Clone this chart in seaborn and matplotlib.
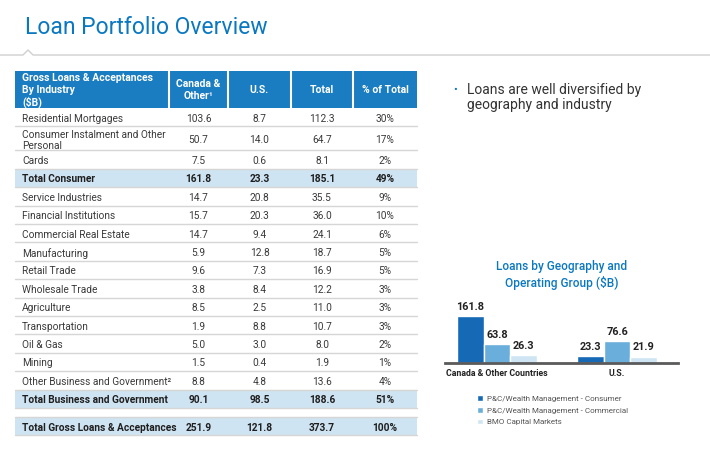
import numpy as np
import pandas as pd
import matplotlib
matplotlib.use("Agg")
import matplotlib.pyplot as plt
from matplotlib.patches import Rectangle, Patch
import seaborn as sns

# table data
header = ["Gross Loans & Acceptances\nBy Industry\n($B)", "Canada &\nOther¹", "U.S.", "Total", "% of Total"]
industries = ["Residential Mortgages", "Consumer Instalment and Other\nPersonal", "Cards",
              "Total Consumer", "Service Industries", "Financial Institutions",
              "Commercial Real Estate", "Manufacturing", "Retail Trade", "Wholesale Trade",
              "Agriculture", "Transportation", "Oil & Gas", "Mining",
              "Other Business and Government²", "Total Business and Government",
              "Total Gross Loans & Acceptances"]
canada = [103.6, 50.7, 7.5, 161.8, 14.7, 15.7, 14.7, 5.9, 9.6, 3.8, 8.5, 1.9, 5.0, 1.5, 8.8, 90.1, 251.9]
us = [8.7, 14.0, 0.6, 23.3, 20.8, 20.3, 9.4, 12.8, 7.3, 8.4, 2.5, 8.8, 3.0, 0.4, 4.8, 98.5, 121.8]
total = [112.3, 64.7, 8.1, 185.1, 35.5, 36.0, 24.1, 18.7, 16.9, 12.2, 11.0, 10.7, 8.0, 1.9, 13.6, 188.6, 373.7]
pct_total = [30, 17, 2, 49, 9, 10, 6, 5, 5, 3, 3, 3, 2, 1, 4, 51, 100]
total_rows = ["Total Consumer", "Total Business and Government", "Total Gross Loans & Acceptances"]

# chart data
geographies = ["Canada & Other Countries", "U.S."]
groups = ["P&C/Wealth Management - Consumer", "P&C/Wealth Management - Commercial", "BMO Capital Markets"]
consumer = [161.8, 23.3]
commercial = [63.8, 76.6]
capital_markets = [26.3, 21.9]

BLUE = "#0a78c0"
HEADER = "#1a7cc1"
LIGHT = "#cfe4f2"
GRID = "#d6d6d6"
TXT = "#3a3a3a"
bar_colors = ["#1569b5", "#6aaedb", "#cfe5f3"]

sns.set_theme(style="white")
plt.rcParams["font.family"] = ["Roboto", "DejaVu Sans"]

W, H = 710, 451
fig = plt.figure(figsize=(7.1, 4.51), dpi=100)

#canvas in pixel coords for the slide parts
cv = fig.add_axes([0, 0, 1, 1])
cv.set_xlim(0, W)
cv.set_ylim(H, 0)
cv.axis("off")

cv.text(25, 34, "Loan Portfolio Overview", fontsize=16.5, color=BLUE, va="baseline")
cv.plot([0, 23, 28, 33, W], [55, 55, 50, 55, 55], color="#cfcfcf", lw=1)

#table header
col_edges = [15, 169, 228, 291, 353, 417]
cv.add_patch(Rectangle((15, 71), 402, 37, facecolor=HEADER, edgecolor="none"))
for xe in col_edges[1:-1]:
    cv.plot([xe, xe], [71, 108], color="white", lw=1.5)
cv.text(22, 90.5, header[0], color="white", fontsize=7.5, fontweight="bold", va="center", linespacing=1.2)
for j in range(1, 5):
    cx = (col_edges[j] + col_edges[j + 1]) / 2
    cv.text(cx, 90, header[j], color="white", fontsize=7.5, fontweight="bold", ha="center", va="center",
            linespacing=1.25)

#table rows
y = 108
for i, name in enumerate(industries):
    h = 24 if "\n" in name else 18.4
    bold = name in total_rows
    if name == total_rows[-1]:
        y += 9
        cv.plot([15, 417], [y, y], color=GRID, lw=1)
    if bold:
        cv.add_patch(Rectangle((15, y), 402, h, facecolor=LIGHT, edgecolor="none"))
    cv.plot([15, 417], [y + h, y + h], color=GRID, lw=1)
    cy = y + h / 2 + 0.5
    w = "bold" if bold else "normal"
    col = "#1e1e1e" if bold else TXT
    cv.text(22, cy, name, fontsize=7.3, fontweight=w, color=col, va="center_baseline", linespacing=1.1)
    vals = [f"{canada[i]:.1f}", f"{us[i]:.1f}", f"{total[i]:.1f}", f"{pct_total[i]}%"]
    for j, v in enumerate(vals):
        cx = (col_edges[j + 1] + col_edges[j + 2]) / 2
        cv.text(cx, cy, v, fontsize=7.3, fontweight=w, color=col, ha="center", va="center_baseline")
    y += h

#bullet text
cv.text(455, 90, "•", color=BLUE, fontsize=8, va="center", ha="center")
cv.text(467, 97.5, "Loans are well diversified by\ngeography and industry", fontsize=10, color="#333333",
        va="center", linespacing=1.15)

#chart title
cv.text(562, 275, "Loans by Geography and\nOperating Group ($B)", ha="center", va="center", fontsize=8.6,
        fontweight="medium", color=BLUE, linespacing=1.25)

#bar chart
df = pd.DataFrame({
    "geo": geographies * 3,
    "group": np.repeat(groups, 2),
    "value": consumer + commercial + capital_markets,
})
ax = fig.add_axes([445 / W, (H - 363) / H, 233 / W, 73 / H])
sns.barplot(data=df, x="geo", y="value", hue="group", hue_order=groups, palette=bar_colors,
            saturation=1, width=0.667, legend=False, ax=ax)
ax.set_xlim(-0.433, 1.508)
ax.set_ylim(0, 251)
ax.patch.set_alpha(0)
for s in ["top", "left", "right"]:
    ax.spines[s].set_visible(False)
ax.spines["bottom"].set_color("#5a5a5a")
ax.spines["bottom"].set_linewidth(2)
ax.set_yticks([])
ax.set_xlabel("")
ax.set_ylabel("")
ax.tick_params(axis="x", length=0, pad=4, labelsize=6.3, labelcolor="#222222")
for lab in ax.get_xticklabels():
    lab.set_fontweight("bold")
for c in ax.containers:
    ax.bar_label(c, fmt="%.1f", padding=3, fontsize=7.8, fontweight="bold", color="#222222")

handles = [Patch(facecolor=c, label=g) for c, g in zip(bar_colors, groups)]
fig.legend(handles=handles, loc="upper left", bbox_to_anchor=(477 / W, 1 - 395 / H), frameon=False,
           fontsize=5.8, handlelength=0.7, handleheight=0.7, handletextpad=0.5, labelspacing=0.65,
           borderpad=0, borderaxespad=0, labelcolor="#555555")

fig.savefig("out.png", dpi=100)
